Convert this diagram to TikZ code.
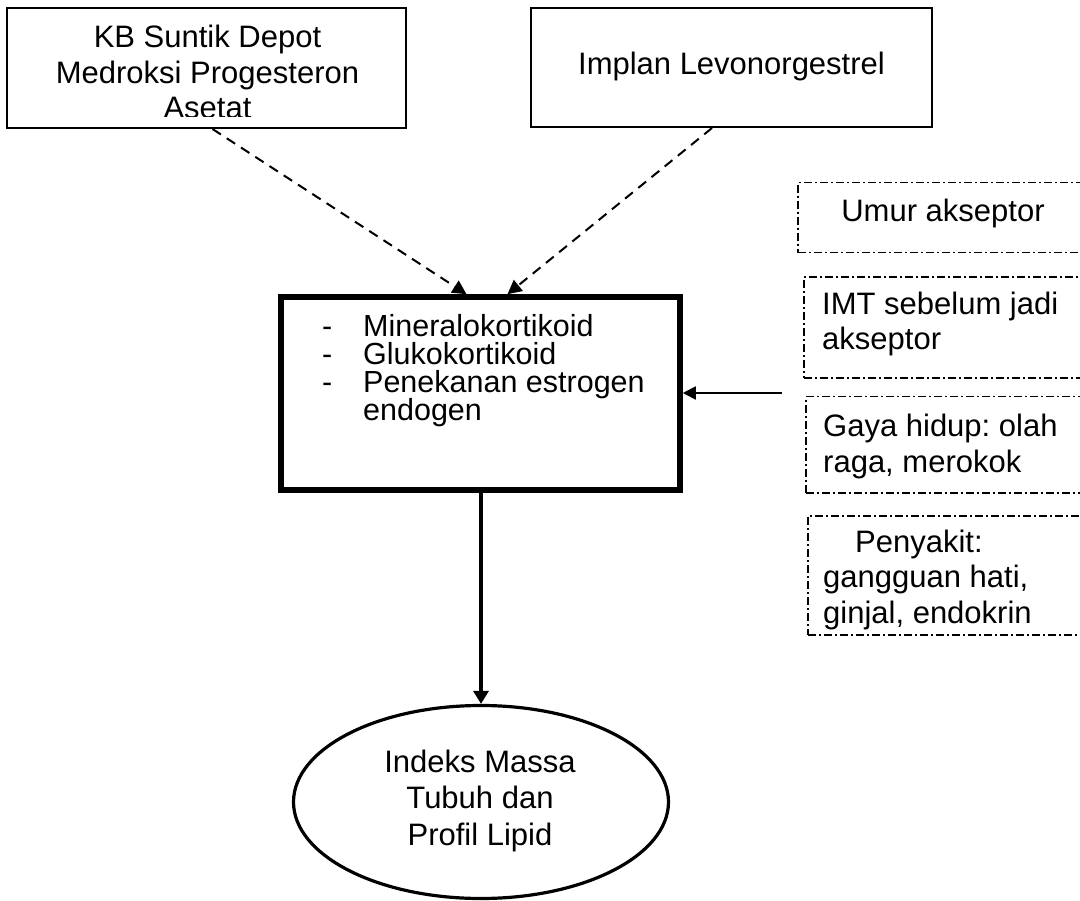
\documentclass[tikz,border=0pt]{standalone}
\usepackage{fontspec}
\setmainfont{Liberation Sans}
\usetikzlibrary{arrows.meta,shapes.geometric}
\frenchspacing
\begin{document}
\begin{tikzpicture}[x=1pt,y=-1pt,
  solidbox/.style={draw,line width=2pt,inner sep=0pt},
  thickbox/.style={draw,line width=5.6pt,inner sep=0pt},
  ddbox/.style={draw,line width=1.5pt,inner sep=0pt,dash pattern=on 8pt off 3pt on 2pt off 3pt},
  txt/.style={font=\fontsize{31}{35.5}\selectfont,align=center,inner sep=0pt},
  ltxt/.style={font=\fontsize{31}{35.5}\selectfont,align=left,inner sep=0pt,anchor=base west},
  dasharrow/.style={line width=2pt,dash pattern=on 10pt off 7pt,-{Triangle[length=14pt,width=14pt]}},
  thinarrow/.style={line width=2pt,-{Triangle[length=13pt,width=13pt]}},
  boldarrow/.style={line width=3.6pt,-{Triangle[length=13pt,width=15pt]}}]
\useasboundingbox (0,0) rectangle (1080,901);

% top boxes
\node[solidbox,minimum width=399pt,minimum height=119.5pt] (kb) at (206.5,68.25) {};
\begin{scope}
  \clip (7,8.5) rectangle (406,117);
  \node[txt,anchor=base] (kbt) at (207.5,119) {KB Suntik Depot\\Medroksi Progesteron\\Asetat};
\end{scope}
\node[solidbox,minimum width=401pt,minimum height=119pt] (imp) at (731,67.5) {};
\node[txt,anchor=base] (impt) at (731.5,75) {Implan Levonorgestrel};

% middle box
\node[thickbox,minimum width=399pt,minimum height=193pt] (mid) at (480.5,393.5) {};
\node[inner sep=0pt,anchor=base west,align=left,font={\fontsize{30.5}{28.3}\selectfont\lineskiplimit=-20pt}] (midt) at (322,421)
  {\makebox[41pt][l]{-}Mineralokortikoid\\
   \makebox[41pt][l]{-}Glukokortikoid\\
   \makebox[41pt][l]{-}Penekanan estrogen\\
   \makebox[41pt][l]{}endogen};

% ellipse
\node[ellipse,draw,line width=3.2pt,minimum width=375pt,minimum height=193pt,inner sep=0pt] (ell) at (481,802) {};
\node[txt,anchor=base,font=\fontsize{31}{36.5}\selectfont] (ellt) at (480,845) {Indeks Massa\\Tubuh dan\\Profil Lipid};

% right dash-dot boxes
\node[ddbox,anchor=north west,minimum width=300pt,minimum height=70pt] (umur) at (797,182) {};
\node[txt,anchor=base] (umurt) at (943,222) {Umur akseptor};
\node[ddbox,anchor=north west,minimum width=300pt,minimum height=101pt] (imt) at (803,276.5) {};
\node[ltxt] (imtt) at (822,350) {IMT sebelum jadi\\akseptor};
\node[ddbox,anchor=north west,minimum width=300pt,minimum height=96pt] (gaya) at (805,396) {};
\node[ltxt] (gayat) at (823,472) {Gaya hidup: olah\\raga, merokok};
\node[ddbox,anchor=north west,minimum width=300pt,minimum height=119pt] (peny) at (807,515) {};
\node[ltxt] (penyt) at (823,623) {\hspace*{32pt}Penyakit:\\gangguan hati,\\ginjal, endokrin};

% connectors
\coordinate (rin) at (782,393);
\draw[dasharrow] ([xshift=6pt]kb.south) -- ([xshift=-14pt]mid.north);
\draw[dasharrow] ([xshift=-19pt]imp.south) -- ([xshift=27pt]mid.north);
\draw[thinarrow] (rin) -- (mid.east |- rin);
\draw[boldarrow] (ell.north |- mid.south) -- (ell.north);
\end{tikzpicture}
\end{document}
